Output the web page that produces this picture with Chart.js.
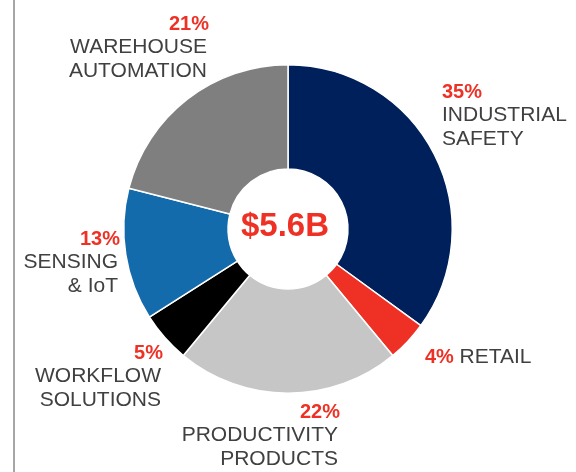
<!DOCTYPE html>
<html>
<head>
<meta charset="UTF-8">
<script src="https://cdn.jsdelivr.net/npm/chart.js"></script>
<style>
  html, body { margin: 0; padding: 0; background: #fff; }
  #wrap { position: relative; width: 576px; height: 472px; }
  #rule { position: absolute; left: 13px; top: 0; width: 2px; height: 472px; background: #a6a6a6; }
</style>
</head>
<body>
<div id="wrap">
  <div id="rule"></div>
  <canvas id="chart" width="576" height="472"></canvas>
</div>
<script>
// Segments, clockwise from 12 o'clock
const segments = ['Industrial Safety', 'Retail', 'Productivity Products', 'Workflow Solutions', 'Sensing & IoT', 'Warehouse Automation'];
const shares = [35, 4, 22, 5, 13, 21];
const labelLines = [
  ['INDUSTRIAL', 'SAFETY'],
  ['RETAIL'],
  ['PRODUCTIVITY', 'PRODUCTS'],
  ['WORKFLOW', 'SOLUTIONS'],
  ['SENSING', '& IoT'],
  ['WAREHOUSE', 'AUTOMATION']
];
const totalLabel = '$5.6B';

const colors = ['#00205b', '#ee3124', '#c6c6c6', '#000000', '#136bab', '#7f7f7f'];
const RED = '#ee3124';
const GREY_TEXT = '#404040';

// where each label sits, relative to the doughnut centre
const labelLayout = [
  { dx: 154, dy: -137, align: 'left' },
  { dx: 137, dy: 128, align: 'inline' },
  { dx: 52, dy: 183, align: 'right' },
  { dx: -125, dy: 124, align: 'right' },
  { dx: -168, dy: 10, align: 'right' },
  { dx: -79, dy: -205, align: 'right' }
];

const labelsPlugin = {
  id: 'labels',
  afterDraw(chart) {
    const ctx = chart.ctx;
    const arc = chart.getDatasetMeta(0).data[0];
    const cx = arc.x, cy = arc.y;
    const pctFont = 'bold 20px "Liberation Sans", Arial, sans-serif';
    const txtFont = '21px "Liberation Sans", Arial, sans-serif';
    ctx.save();
    ctx.textBaseline = 'middle';

    shares.forEach((v, i) => {
      const lay = labelLayout[i];
      const x = cx + lay.dx, y = cy + lay.dy;
      const pct = v + '%';
      if (lay.align === 'inline') {
        ctx.textAlign = 'left';
        ctx.font = pctFont;
        ctx.fillStyle = RED;
        ctx.fillText(pct, x, y);
        const w = ctx.measureText(pct + ' ').width;
        ctx.font = txtFont;
        ctx.fillStyle = GREY_TEXT;
        ctx.fillText(labelLines[i].join(' '), x + w, y);
        return;
      }
      ctx.textAlign = lay.align;
      ctx.font = pctFont;
      ctx.fillStyle = RED;
      ctx.fillText(pct, x, y);
      ctx.font = txtFont;
      ctx.fillStyle = GREY_TEXT;
      labelLines[i].forEach((line, j) => {
        ctx.fillText(line, x - (lay.align === 'right' ? 2 : 0), y + 24 * (j + 1) - 1);
      });
    });

    // total in the hole
    ctx.textAlign = 'center';
    ctx.font = 'bold 33px "Liberation Sans", Arial, sans-serif';
    ctx.fillStyle = RED;
    ctx.fillText(totalLabel, cx - 3, cy - 2);
    ctx.restore();
  }
};

new Chart(document.getElementById('chart'), {
  type: 'doughnut',
  data: {
    labels: segments,
    datasets: [{
      data: shares,
      backgroundColor: colors,
      borderColor: '#ffffff',
      borderWidth: 1.5
    }]
  },
  options: {
    responsive: false,
    animation: false,
    cutout: 60,
    layout: { padding: { top: 64, bottom: 78, left: 123, right: 123 } },
    plugins: {
      legend: { display: false },
      tooltip: { enabled: false },
      title: { display: false }
    }
  },
  plugins: [labelsPlugin]
});
</script>
</body>
</html>
